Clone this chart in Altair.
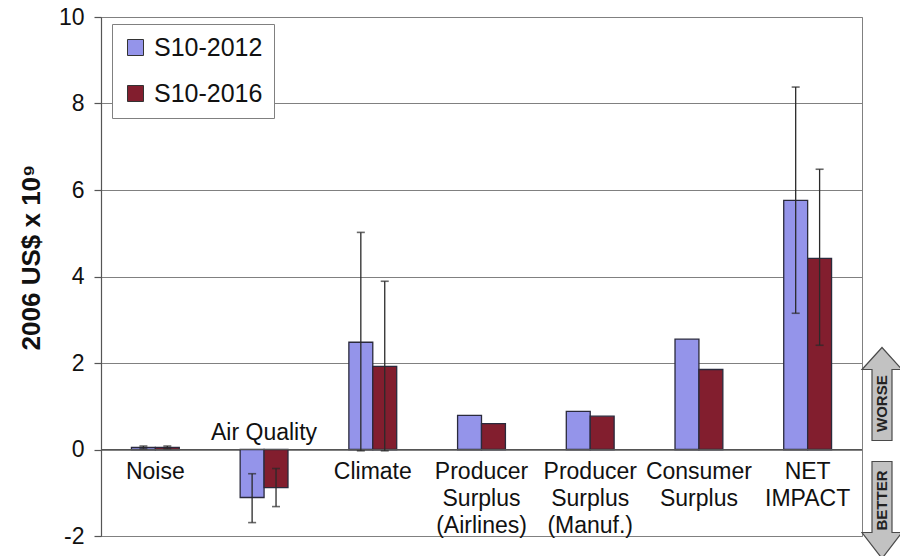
import altair as alt
import pandas as pd

FONT = "Liberation Sans"

# Impact categories (x axis) and their display labels ("|" = line break)
categories = [
    "Noise",
    "Air Quality",
    "Climate",
    "Producer Surplus (Airlines)",
    "Producer Surplus (Manuf.)",
    "Consumer Surplus",
    "NET IMPACT",
]
category_labels = [
    "Noise",
    "Air Quality",
    "Climate",
    "Producer|Surplus|(Airlines)",
    "Producer|Surplus|(Manuf.)",
    "Consumer|Surplus",
    "NET|IMPACT",
]
label_side = ["below", "above", "below", "below", "below", "below", "below"]

series = ["S10-2012", "S10-2016"]
series_colors = ["#9494EA", "#821E2E"]

# Mean impact, 2006 US$ x 10^9
values_2012 = [0.05, -1.11, 2.48, 0.79, 0.88, 2.55, 5.76]
values_2016 = [0.05, -0.88, 1.92, 0.60, 0.77, 1.85, 4.42]

# Uncertainty ranges (only where they exist)
err_categories = ["Noise", "Air Quality", "Climate", "NET IMPACT"]
err_low_2012 = [0.02, -1.69, -0.03, 3.15]
err_high_2012 = [0.08, -0.56, 5.02, 8.38]
err_low_2016 = [0.02, -1.32, -0.03, 2.41]
err_high_2016 = [0.08, -0.44, 3.89, 6.48]

y_ticks = [-2, 0, 2, 4, 6, 8, 10]

bars_df = pd.DataFrame({
    "category": categories * 2,
    "series": [series[0]] * len(categories) + [series[1]] * len(categories),
    "value": values_2012 + values_2016,
})
err_df = pd.DataFrame({
    "category": err_categories * 2,
    "series": [series[0]] * len(err_categories) + [series[1]] * len(err_categories),
    "low": err_low_2012 + err_low_2016,
    "high": err_high_2012 + err_high_2016,
})
labels_df = pd.DataFrame({
    "category": categories,
    "label": category_labels,
    "side": label_side,
})

W, H = 761, 519

x_enc = alt.X(
    "category:N", sort=categories, axis=None,
    scale=alt.Scale(paddingInner=0.56, paddingOuter=0.28),
)
xoff_enc = alt.XOffset(
    "series:N", sort=series, scale=alt.Scale(paddingInner=0, paddingOuter=0)
)
y_scale = alt.Scale(domain=[-2, 10], nice=False, zero=False)

bars = alt.Chart(bars_df).mark_bar(
    stroke="#2a2a3c", strokeWidth=1.3
).encode(
    x=x_enc,
    xOffset=xoff_enc,
    y=alt.Y(
        "value:Q", scale=y_scale,
        axis=alt.Axis(
            values=y_ticks, grid=True, gridColor="#808080", gridWidth=1,
            domainColor="#555555", domainWidth=1.2,
            tickColor="#555555", tickSize=7, tickWidth=1.2,
            labelExpr="'' + datum.value",
            labelFont=FONT, labelFontSize=23, labelColor="#111111",
            labelPadding=10,
            title="2006 US$ x 10⁹", titleFont=FONT, titleFontSize=26,
            titleFontWeight="bold", titleColor="#111111",
            titleX=-70, titleY=240, titleAngle=270,
            titleAlign="center", titleBaseline="middle",
        ),
    ),
    y2=alt.datum(0),
    color=alt.Color(
        "series:N", sort=series,
        scale=alt.Scale(domain=series, range=series_colors),
        legend=alt.Legend(
            title=None, orient="none", legendX=11, legendY=7,
            fillColor="white", strokeColor="#808080",
            padding=11, symbolType="square", symbolSize=256,
            symbolStrokeColor="#333333", symbolStrokeWidth=1,
            symbolOpacity=1, labelFont=FONT, labelFontSize=25,
            labelColor="#111111", labelOffset=6, rowPadding=20,
        ),
    ),
)

zero_line = alt.Chart(bars_df).mark_rule(color="#555555", strokeWidth=1.2).encode(
    y=alt.datum(0)
)

err_rules = alt.Chart(err_df).mark_rule(color="#2a2a2a", strokeWidth=1.3).encode(
    x=x_enc, xOffset=xoff_enc, y=alt.Y("low:Q", scale=y_scale), y2="high:Q"
)
err_caps_low = alt.Chart(err_df).mark_tick(
    color="#2a2a2a", size=8, thickness=1.6, orient="horizontal"
).encode(x=x_enc, xOffset=xoff_enc, y=alt.Y("low:Q", scale=y_scale))
err_caps_high = alt.Chart(err_df).mark_tick(
    color="#2a2a2a", size=8, thickness=1.6, orient="horizontal"
).encode(x=x_enc, xOffset=xoff_enc, y=alt.Y("high:Q", scale=y_scale))

labels_below = alt.Chart(labels_df).transform_filter(
    "datum.side == 'below'"
).transform_calculate(
    lines="split(datum.label, '|')"
).mark_text(
    font=FONT, fontSize=23, lineHeight=27, color="#111111",
    baseline="alphabetic", dy=29,
).encode(x=x_enc, y=alt.datum(0), text="lines:N")

labels_above = alt.Chart(labels_df).transform_filter(
    "datum.side == 'above'"
).mark_text(
    font=FONT, fontSize=23, color="#111111", baseline="alphabetic", dy=-10,
).encode(x=x_enc, y=alt.datum(0), text="label:N")

# Double arrow at the right edge: up = worse, down = better
arrow_path = (
    "M 0 -10.2 L 2 -8 L 1 -8 L 1 -0.9 L -1 -0.9 L -1 -8 L -2 -8 Z "
    "M -1 1.2 L 1 1.2 L 1 8.3 L 2 8.3 L 0 10.9 L -2 8.3 L -1 8.3 Z"
)
arrows = alt.Chart(labels_df).transform_filter(
    "datum.category == 'Noise'"
).mark_point(
    shape=arrow_path, size=400, filled=True, color="#C2C2C2",
    stroke="#4a4a4a", strokeWidth=1.2, opacity=1,
).encode(x=alt.value(W + 20), y=alt.datum(0))

worse_text = alt.Chart(labels_df).transform_filter(
    "datum.category == 'Noise'"
).mark_text(
    text="WORSE", angle=270, font=FONT, fontSize=15, fontWeight="bold",
    color="#222222", align="center", baseline="middle",
).encode(x=alt.value(W + 20), y=alt.datum(1.06))

better_text = alt.Chart(labels_df).transform_filter(
    "datum.category == 'Noise'"
).mark_text(
    text="BETTER", angle=270, font=FONT, fontSize=15, fontWeight="bold",
    color="#222222", align="center", baseline="middle",
).encode(x=alt.value(W + 20), y=alt.datum(-1.18))

chart = alt.layer(
    bars, zero_line, err_rules, err_caps_low, err_caps_high,
    labels_below, labels_above, arrows, worse_text, better_text,
).properties(
    width=W, height=H,
    autosize=alt.AutoSizeParams(type="none"),
    padding={"left": 101, "top": 17, "right": 38, "bottom": 20},
    background="white",
).configure_view(stroke="#808080", strokeWidth=1)

chart.save("out.html", embed_options={"renderer": "svg", "actions": False})
